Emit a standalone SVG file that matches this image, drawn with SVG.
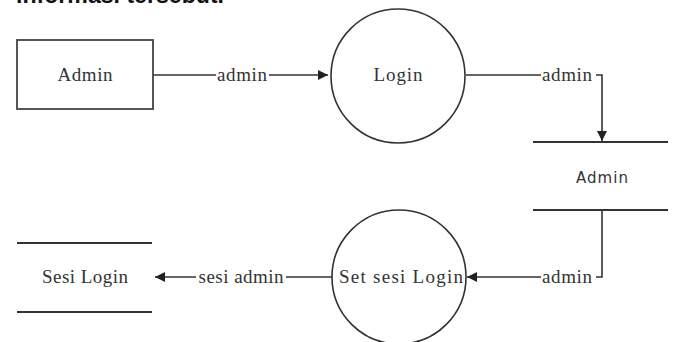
<svg xmlns="http://www.w3.org/2000/svg" width="673" height="342" viewBox="0 0 673 342">
<defs>
<marker id="ah" viewBox="0 0 10 10" refX="10" refY="5" markerWidth="12" markerHeight="10" markerUnits="userSpaceOnUse" orient="auto">
<path d="M0,0 L10,5 L0,10 Z" fill="#222"/>
</marker>
<style>
.ln{fill:none;stroke:#333;stroke-width:1.6}
.shape{fill:#fff;stroke:#444;stroke-width:1.8}
.st{stroke:#333;stroke-width:2}
.serif{font-family:"Liberation Serif","Times New Roman",serif;font-size:19px;fill:#333}
.sans{font-family:"DejaVu Sans",Verdana,sans-serif;font-size:15px;fill:#333}
.lbl{font-family:"Liberation Serif","Times New Roman",serif;font-size:19px;fill:#333}
.bg{fill:#fff}
</style>
</defs>
<rect width="673" height="342" fill="#fff"/>
<text x="16" y="3" font-family="Liberation Sans, Arial, sans-serif" font-size="23" font-weight="bold" fill="#111" textLength="208" lengthAdjust="spacingAndGlyphs">informasi tersebut.</text>
<g id="connectors">
<path class="ln" d="M153,75 L328,75" marker-end="url(#ah)"/>
<rect class="bg" x="216" y="66" width="53" height="18"/>
<text class="lbl" x="242" y="81" text-anchor="middle" textLength="50">admin</text>
<path class="ln" d="M466,75 L602,75 L602,141" marker-end="url(#ah)"/>
<rect class="bg" x="541" y="66" width="55" height="18"/>
<text class="lbl" x="567" y="81" text-anchor="middle" textLength="50">admin</text>
<path class="ln" d="M602,210 L602,277 L467,277" marker-end="url(#ah)"/>
<rect class="bg" x="541" y="268" width="55" height="18"/>
<text class="lbl" x="567" y="283" text-anchor="middle" textLength="50">admin</text>
<path class="ln" d="M332,277 L155,277" marker-end="url(#ah)"/>
<rect class="bg" x="196" y="268" width="90" height="18"/>
<text class="lbl" x="241" y="283" text-anchor="middle" textLength="85">sesi admin</text>
</g>
<g id="admin-entity">
<rect class="shape" x="17" y="40" width="136" height="69"/>
<text class="serif" x="85" y="81" text-anchor="middle" textLength="55">Admin</text>
</g>
<g id="login">
<circle class="ln" cx="398" cy="76" r="67" fill="#fff"/>
<text class="serif" x="398" y="81" text-anchor="middle" textLength="49">Login</text>
</g>
<g id="admin-store">
<line class="st" x1="533" y1="142" x2="668" y2="142"/>
<line class="st" x1="533" y1="210" x2="668" y2="210"/>
<text class="sans" x="602" y="183" text-anchor="middle" textLength="52">Admin</text>
</g>
<g id="set-sesi-login">
<circle class="ln" cx="399" cy="277" r="67" fill="#fff"/>
<text class="serif" x="401" y="283" text-anchor="middle" textLength="124">Set sesi Login</text>
</g>
<g id="sesi-login-store">
<line class="st" x1="17" y1="243" x2="152" y2="243"/>
<line class="st" x1="17" y1="312" x2="152" y2="312"/>
<text class="serif" x="85" y="283" text-anchor="middle" textLength="86">Sesi Login</text>
</g>
</svg>
